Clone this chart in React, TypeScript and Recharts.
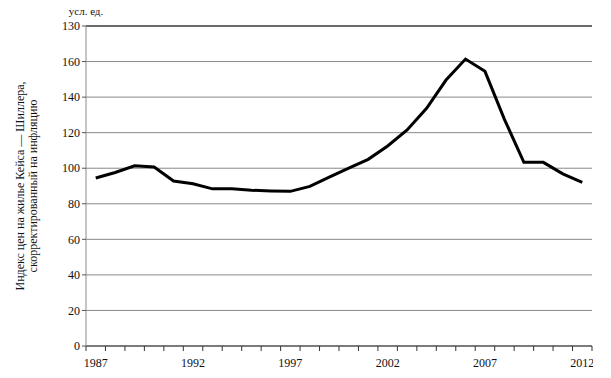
import React from 'react';
import { LineChart, Line, XAxis, YAxis, CartesianGrid, ReferenceLine } from 'recharts';

const years = [
  1987, 1988, 1989, 1990, 1991, 1992, 1993, 1994, 1995, 1996, 1997, 1998, 1999,
  2000, 2001, 2002, 2003, 2004, 2005, 2006, 2007, 2008, 2009, 2010, 2011, 2012,
];
const caseShiller = [
  94.5, 97.6, 101.4, 100.7, 92.8, 91.3, 88.4, 88.4, 87.6, 87.2, 87.0, 89.8, 95.0,
  100.0, 105.0, 112.5, 121.5, 133.7, 149.6, 161.4, 154.5, 127.5, 103.3, 103.3, 96.8, 92.0,
];
const yTicks = [0, 20, 40, 60, 80, 100, 120, 140, 160, 180];
const yTickLabels = ['0', '20', '40', '60', '80', '100', '120', '140', '160', '130'];
const xLabelYears = [1987, 1992, 1997, 2002, 2007, 2012];
const yLabelLines = ['Индекс цен на жилье Кейса — Шиллера,', 'скорректированный на инфляцию'];
const unitLabel = 'усл. ед.';

const data = years.map((year, i) => ({ year, value: caseShiller[i] }));
// boundaries between yearly bands, used for the tick marks
const bandEdges = [...years.map((y) => y - 0.5), years[years.length - 1] + 0.5];

const CHART_W = 593;
const CHART_H = 378;
const Y_AXIS_W = 86;
const MARGIN = { top: 26, right: 1, bottom: 0, left: 0 };
const FONT = '"Liberation Serif", "DejaVu Serif", serif';
const STEP = (CHART_W - Y_AXIS_W - MARGIN.right) / years.length;

const XTick = (props: any) => {
  const { x, y, payload } = props;
  const year = payload.value + 0.5;
  if (!xLabelYears.includes(year)) return null;
  return (
    <text x={x + STEP / 2} y={y} dy="0.71em" textAnchor="middle" fill="#111" fontSize={12} fontFamily={FONT}>
      {year}
    </text>
  );
};

const YLabel = (props: any) => {
  const { x, y, width, height } = props.viewBox;
  const cy = y + height / 2;
  return (
    <g fontFamily={FONT} fill="#111">
      <text x={x + width} y={y - 11} textAnchor="middle" fontSize={11}>
        {unitLabel}
      </text>
      {yLabelLines.map((line, i) => (
        <text
          key={i}
          x={20 + i * 13}
          y={cy}
          transform={`rotate(-90, ${20 + i * 13}, ${cy})`}
          textAnchor="middle"
          dominantBaseline="central"
          fontSize={12}
        >
          {line}
        </text>
      ))}
    </g>
  );
};

export default function App() {
  return (
    <div style={{ position: 'absolute', left: 0, top: 0, width: CHART_W, height: CHART_H, overflow: 'hidden', background: '#fff' }}>
      <LineChart width={CHART_W} height={CHART_H} data={data} margin={MARGIN}>
        <CartesianGrid vertical={false} stroke="#8a8a8a" />
        <XAxis
          dataKey="year"
          type="number"
          domain={[bandEdges[0], bandEdges[bandEdges.length - 1]]}
          ticks={bandEdges}
          interval={0}
          height={32}
          axisLine={{ stroke: '#333' }}
          tickLine={{ stroke: '#333' }}
          tickSize={5}
          tickMargin={7}
          tick={<XTick />}
        />
        <YAxis
          domain={[0, 180]}
          ticks={yTicks}
          interval={0}
          width={Y_AXIS_W}
          axisLine={{ stroke: '#8a8a8a' }}
          tickLine={{ stroke: '#555' }}
          tickSize={4}
          tickMargin={2}
          tickFormatter={(v: number) => yTickLabels[yTicks.indexOf(v)]}
          tick={{ fill: '#111', fontSize: 12, fontFamily: FONT }}
          label={{ content: (p: any) => <YLabel {...p} /> }}
        />
        <ReferenceLine y={180} stroke="#111" />
        <Line
          type="linear"
          dataKey="value"
          stroke="#000"
          strokeWidth={3}
          dot={false}
          isAnimationActive={false}
        />
      </LineChart>
    </div>
  );
}
